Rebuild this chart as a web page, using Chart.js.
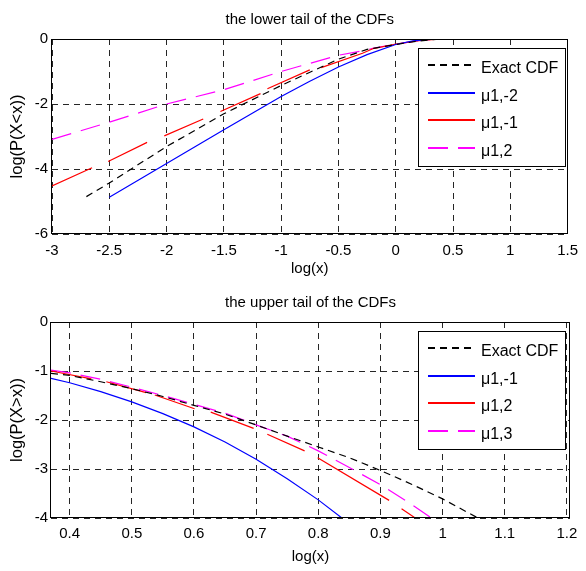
<!DOCTYPE html>
<html><head><meta charset="utf-8">
<script src="https://cdn.jsdelivr.net/npm/chart.js@4.4.0/dist/chart.umd.min.js"></script>
<style>
html,body{margin:0;padding:0;background:#fff;}
#wrap{position:relative;width:586px;height:571px;overflow:hidden;}
canvas{position:absolute;left:0;}
</style>
</head><body>
<div id="wrap">
<canvas id="c1" width="586" height="285" style="top:0"></canvas>
<canvas id="c2" width="586" height="286" style="top:285px"></canvas>
</div>
<script>
// ---------- lower tail (top panel) ----------
const lowerTitle = 'the lower tail of the CDFs';
const lowerXLabel = 'log(x)';
const lowerYLabel = 'log(P(X<x))';
const lowerXTicks = [-3, -2.5, -2, -1.5, -1, -0.5, 0, 0.5, 1, 1.5];
const lowerYTicks = [-6, -4, -2, 0];
const lowerSeriesNames = ['Exact CDF', '\u03bc1,-2', '\u03bc1,-1', '\u03bc1,2'];

const lowerExactX = [-2.7, -2.5, -2.0, -1.5, -1.0, -0.5, -0.25, 0, 0.2, 0.4, 1.2];
const lowerExactY = [-4.85, -4.43, -3.31, -2.3, -1.43, -0.62, -0.32, -0.17, -0.06, 0, 0];

const lowerAX = [-2.5, -2.0, -1.5, -1.0, -0.75, -0.5, -0.25, 0, 0.15, 0.3, 0.4, 1.2];
const lowerAY = [-4.87, -3.83, -2.79, -1.77, -1.3, -0.86, -0.48, -0.17, -0.06, -0.01, 0, 0];

const lowerBX = [-3, -2.65, null, -2.51, -2.17, null, -2.02, -1.68, null, -1.53, -1.18, null, -1.12, -0.75, null, -0.65, -0.29, -0.2, 0, 0.2, 0.4, 1.2];
const lowerBY = [-4.52, -3.96, null, -3.77, -3.18, null, -2.98, -2.46, null, -2.23, -1.68, null, -1.53, -0.95, null, -0.88, -0.44, -0.3, -0.16, -0.05, 0, 0];

const lowerCX = [-3, -2.5, -2, -1.5, -1, -0.5, -0.3, -0.2, 0, 0.2, 0.35, 1.2];
const lowerCY = [-3.09, -2.56, -2.0, -1.56, -1.0, -0.5, -0.37, -0.29, -0.16, -0.05, 0, 0];

// ---------- upper tail (bottom panel) ----------
const upperTitle = 'the upper tail of the CDFs';
const upperXLabel = 'log(x)';
const upperYLabel = 'log(P(X>x))';
const upperXTicks = [0.4, 0.5, 0.6, 0.7, 0.8, 0.9, 1, 1.1, 1.2];
const upperYTicks = [-4, -3, -2, -1, 0];
const upperSeriesNames = ['Exact CDF', '\u03bc1,-1', '\u03bc1,2', '\u03bc1,3'];

const upperExactX = [0.37, 0.4, 0.45, 0.5, 0.55, 0.6, 0.65, 0.7, 0.75, 0.8, 0.85, 0.9, 0.95, 1.0, 1.057];
const upperExactY = [-1.05, -1.09, -1.22, -1.36, -1.52, -1.70, -1.88, -2.1, -2.33, -2.55, -2.77, -3.03, -3.31, -3.61, -4.0];

const upperAX = [0.37, 0.4, 0.45, 0.5, 0.55, 0.6, 0.65, 0.7, 0.75, 0.8, 0.838];
const upperAY = [-1.15, -1.24, -1.42, -1.63, -1.87, -2.14, -2.45, -2.8, -3.2, -3.63, -4.0];

const upperBX = [0.37, 0.435, null, 0.459, 0.523, null, 0.537, 0.601, null, 0.627, 0.696, null, 0.718, 0.778, null, 0.799, 0.914, null, 0.934, 0.956];
const upperBY = [-1.0, -1.16, null, -1.22, -1.44, null, -1.49, -1.77, null, -1.84, -2.17, null, -2.29, -2.63, null, -2.77, -3.64, null, -3.81, -4.0];

const upperCX = [0.37, 0.4, 0.45, 0.5, 0.55, 0.6, 0.65, 0.7, 0.75, 0.8, 0.85, 0.9, 0.95, 0.982];
const upperCY = [-0.98, -1.04, -1.17, -1.33, -1.5, -1.68, -1.86, -2.1, -2.33, -2.63, -2.97, -3.32, -3.72, -4.0];

// ---------- helpers ----------
const FONT = '"Liberation Sans", Arial, sans-serif';
Chart.defaults.font.family = FONT;
Chart.defaults.font.size = 15;
Chart.defaults.color = '#000';

function pts(xs, ys) {
  return xs.map((x, i) => ({ x: x === null ? NaN : x, y: ys[i] === null ? NaN : ys[i] }));
}
const styles = [
  { color: '#000000', dash: [7, 5] },
  { color: '#0000ff', dash: [] },
  { color: '#ff0000', dash: [] },
  { color: '#ff00ff', dash: [20, 10] }
];
function mkDatasets(names, series) {
  return series.map((s, i) => ({
    label: names[i],
    data: pts(s[0], s[1]),
    borderColor: styles[i].color,
    borderDash: styles[i].dash,
    borderWidth: 1.2,
    pointRadius: 0,
    showLine: true,
    spanGaps: false,
    tension: 0,
    fill: false
  }));
}

const matlabPlugin = {
  id: 'matlabDecor',
  afterDraw(chart, args, opts) {
    const { ctx, chartArea: a } = chart;
    ctx.save();
    // box
    ctx.setLineDash([]);
    ctx.strokeStyle = '#000';
    ctx.lineWidth = 1;
    const L = Math.round(a.left) - 0.5, T = Math.round(a.top) + 0.5;
    const R = Math.round(a.right) - 0.5, B = Math.round(a.bottom) - 0.5;
    ctx.strokeRect(L, T, R - L, B - T);
    // title
    ctx.fillStyle = '#000';
    ctx.font = '15px ' + FONT;
    ctx.textAlign = 'center';
    ctx.textBaseline = 'alphabetic';
    ctx.fillText(opts.title, (a.left + a.right) / 2, a.top - 15.5);
    // legend
    const lx = opts.legendLeft, lw = opts.legendWidth;
    const ly = Math.round(a.top) + 9, lh = 118;
    ctx.fillStyle = '#fff';
    ctx.fillRect(lx, ly, lw, lh);
    ctx.strokeStyle = '#000';
    ctx.strokeRect(lx + 0.5, ly + 0.5, lw, lh);
    ctx.font = '16px ' + FONT;
    ctx.textAlign = 'left';
    const names = opts.names;
    for (let i = 0; i < names.length; i++) {
      const y = Math.round(a.top + 26 + 27.7 * i);
      ctx.save();
      ctx.beginPath();
      ctx.lineWidth = 2;
      ctx.strokeStyle = styles[i].color;
      ctx.setLineDash(styles[i].dash);
      ctx.moveTo(lx + 10, y);
      ctx.lineTo(lx + 57, y);
      ctx.stroke();
      ctx.restore();
      ctx.fillStyle = '#000';
      ctx.fillText(names[i], lx + 63, y + 7.5);
    }
    ctx.restore();
  }
};

function mkChart(id, cfg) {
  return new Chart(document.getElementById(id), {
    type: 'scatter',
    data: { datasets: cfg.datasets },
    plugins: [matlabPlugin],
    options: {
      responsive: false,
      animation: false,
      devicePixelRatio: 1,
      layout: { padding: { top: cfg.top, right: cfg.right, left: 0, bottom: 0 } },
      plugins: {
        legend: { display: false },
        tooltip: { enabled: false },
        matlabDecor: { title: cfg.title, legendLeft: 418, legendWidth: 147, names: cfg.names }
      },
      scales: {
        x: {
          type: 'linear', min: cfg.xmin, max: cfg.xmax,
          afterBuildTicks: s => { s.ticks = cfg.xticks.map(v => ({ value: v })); },
          afterFit: s => { s.height = cfg.xh; },
          ticks: { padding: cfg.xpad, color: '#000', font: { size: 15 }, maxRotation: 0, autoSkip: false, callback: v => String(v) },
          grid: { color: 'rgba(0,0,0,0.85)', lineWidth: 1, drawTicks: false },
          border: { display: false, dash: [6, 5] },
          title: { display: true, text: cfg.xlabel, font: { size: 15 }, color: '#000', padding: { top: 0, bottom: cfg.xtpad } }
        },
        y: {
          type: 'linear', min: cfg.ymin, max: cfg.ymax,
          afterBuildTicks: s => { s.ticks = cfg.yticks.map(v => ({ value: v })); },
          afterFit: s => { s.width = cfg.yw; },
          ticks: { padding: cfg.ypad, color: '#000', font: { size: 15 }, autoSkip: false, callback: v => String(v) },
          grid: { color: 'rgba(0,0,0,0.85)', lineWidth: 1, drawTicks: false },
          border: { display: false, dash: [6, 5] },
          title: { display: true, text: cfg.ylabel, font: { size: 16.5 }, color: '#000', padding: { top: 8, bottom: 0 } }
        }
      }
    }
  });
}

mkChart('c1', {
  datasets: mkDatasets(lowerSeriesNames, [[lowerExactX, lowerExactY], [lowerAX, lowerAY], [lowerBX, lowerBY], [lowerCX, lowerCY]]),
  names: lowerSeriesNames,
  title: lowerTitle, xlabel: lowerXLabel, ylabel: lowerYLabel,
  xmin: -3, xmax: 1.5, ymin: -6, ymax: 0,
  xticks: lowerXTicks, yticks: lowerYTicks,
  top: 39, right: 14, xh: 51, yw: 52, xpad: 8, ypad: 4, xtpad: 7
});

mkChart('c2', {
  datasets: mkDatasets(upperSeriesNames, [[upperExactX, upperExactY], [upperAX, upperAY], [upperBX, upperBY], [upperCX, upperCY]]),
  names: upperSeriesNames,
  title: upperTitle, xlabel: upperXLabel, ylabel: upperYLabel,
  xmin: 0.37, xmax: 1.205, ymin: -4, ymax: 0,
  xticks: upperXTicks, yticks: upperYTicks,
  top: 37, right: 16, xh: 53, yw: 51, xpad: 7, ypad: 3, xtpad: 5
});
</script>
</body></html>
